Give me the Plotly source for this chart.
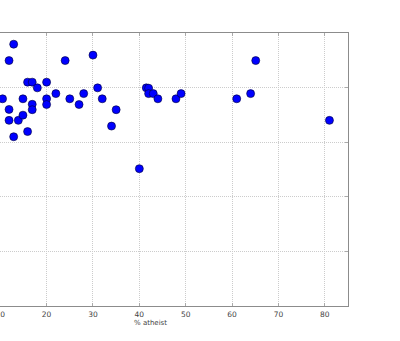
import plotly.graph_objects as go

pct_atheist = [12.9, 11.9, 24.0, 30.0, 15.9, 16.9, 20.0, 18.0, 31.0, 10.5,
               14.9, 20.0, 22.0, 25.0, 28.0, 32.0, 11.9, 16.9, 16.9, 20.0,
               27.0, 35.0, 11.9, 13.9, 14.9, 34.0, 15.9, 12.9, 41.5, 42.0,
               42.0, 43.0, 44.0, 47.9, 49.0, 40.0, 65.1, 61.0, 64.0, 81.0]
y_values = [95.9, 89.9, 89.9, 91.9, 82.0, 82.0, 82.0, 79.9, 79.9, 75.9,
            75.9, 75.9, 77.8, 75.9, 77.8, 75.9, 72.0, 73.9, 71.9, 73.8,
            73.8, 71.9, 68.0, 68.0, 69.9, 65.9, 63.9, 62.0, 79.9, 79.8,
            77.8, 77.8, 75.9, 75.9, 77.8, 50.3, 89.9, 75.9, 77.8, 68.0]
x_ticks = [10, 20, 30, 40, 50, 60, 70, 80]
y_ticks = [0, 20, 40, 60, 80, 100]

fig = go.Figure()
fig.add_trace(go.Scatter(
    x=pct_atheist, y=y_values, mode="markers",
    marker=dict(size=8, color="#0000ff", line=dict(color="#000033", width=0.6)),
    cliponaxis=False, showlegend=False,
))

axis_font = dict(family="DejaVu Sans", size=7.5, color="#444444")
grid_dash = "1px,1px"
fig.update_xaxes(
    range=[9.95, 85], tickvals=x_ticks, ticks="inside", ticklen=3,
    tickcolor="#aaaaaa", tickwidth=1, showline=True, linecolor="#8c8c8c",
    linewidth=1.3, mirror="ticks", showgrid=True, gridcolor="#cccccc",
    griddash=grid_dash, gridwidth=1, zeroline=False, tickfont=axis_font,
    ticklabeloverflow="allow", ticklabelstandoff=1, automargin=False,
)
fig.update_yaxes(
    range=[0, 100], tickvals=y_ticks, ticks="inside", ticklen=3,
    tickcolor="#aaaaaa", tickwidth=1, side="right", showline=True,
    linecolor="#8c8c8c", linewidth=1.3, showgrid=True, gridcolor="#cccccc",
    griddash=grid_dash, gridwidth=1, zeroline=False, showticklabels=False,
    automargin=False,
)
fig.add_annotation(
    text="% atheist", x=42.3, xref="x", y=0, yref="paper",
    yanchor="middle", yshift=-16.5, showarrow=False,
    font=dict(family="DejaVu Sans", size=7, color="#444444"),
)
fig.update_layout(
    width=400, height=341, margin=dict(l=0, r=52, t=33, b=35),
    paper_bgcolor="white", plot_bgcolor="white",
)
fig.write_html("out.html")
